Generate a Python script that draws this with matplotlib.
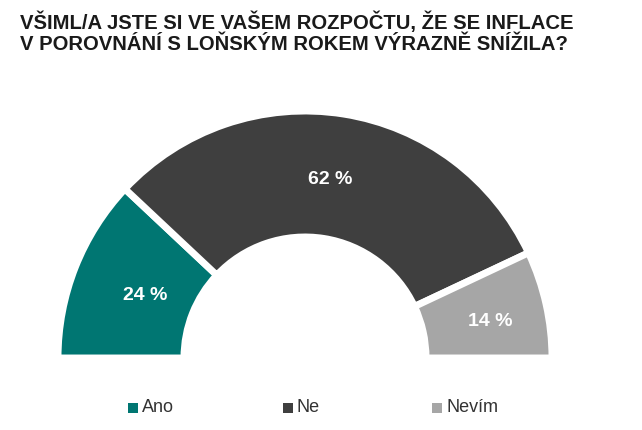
import matplotlib
matplotlib.use("Agg")
import matplotlib.pyplot as plt
from matplotlib.patches import Wedge, Rectangle

categories = ["Ano", "Ne", "Nevím"]
values = [24, 62, 14]
colors = ["#007672", "#3f3f3f", "#a6a6a6"]
title = "VŠIML/A JSTE SI VE VAŠEM ROZPOČTU, ŽE SE INFLACE\nV POROVNÁNÍ S LOŇSKÝM ROKEM VÝRAZNĚ SNÍŽILA?"

plt.rcParams["font.family"] = "Liberation Sans"
fig = plt.figure(figsize=(6.42, 4.30), dpi=100)
ax = fig.add_axes([0, 0, 1, 1])
ax.set_xlim(0, 642)
ax.set_ylim(430, 0)
ax.axis("off")

cx, cy, R, W = 305, 358, 247, 126
total = sum(values)
start = 180.0
label_pos = [(145, 296), (330, 180), (490, 322)]
for v, c, lp in zip(values, colors, label_pos):
    sweep = 180.0 * v / total
    w = Wedge((cx, cy), R, -start, -(start - sweep), width=W,
              facecolor=c, edgecolor="white", linewidth=5)
    ax.add_patch(w)
    ax.text(lp[0], lp[1], f"{v} %", color="white", fontsize=14,
            fontweight="bold", ha="center", va="center")
    start -= sweep

ax.text(20, 33, title, fontsize=14.6, fontweight="bold", color="#1a1a1a",
        ha="left", va="center", linespacing=1.15)

leg_x = [128, 283, 432]
for x, c, name in zip(leg_x, colors, categories):
    ax.add_patch(Rectangle((x, 403), 10, 10, facecolor=c))
    ax.text(x + 14, 408, name, fontsize=13, color="#333333", va="center", ha="left")

fig.savefig("out.png", dpi=100)
